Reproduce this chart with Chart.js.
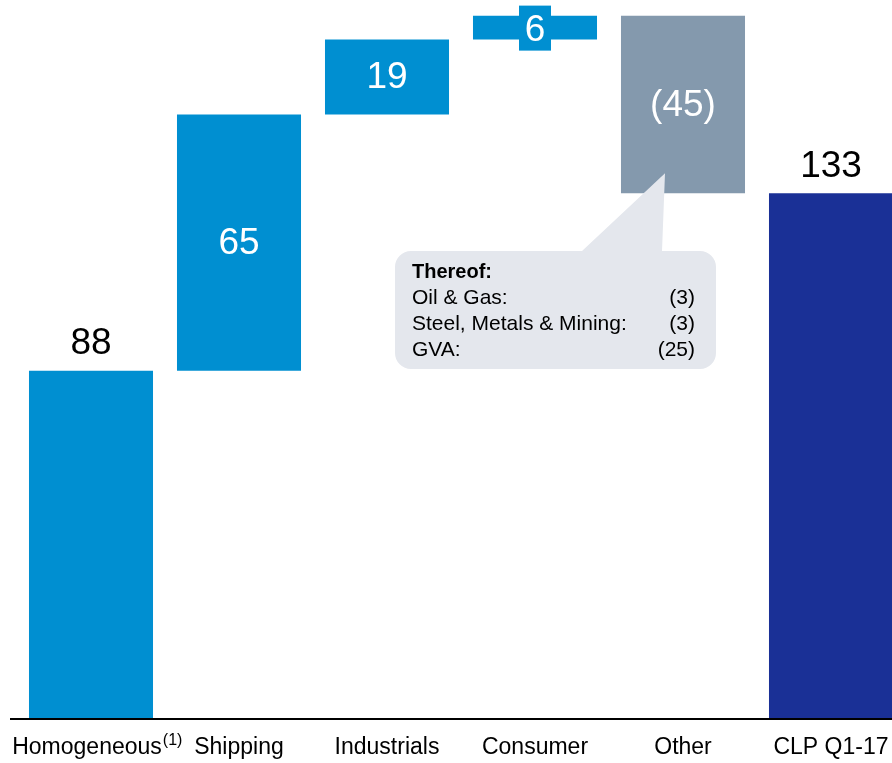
<!DOCTYPE html>
<html>
<head>
<meta charset="utf-8">
<script src="https://cdn.jsdelivr.net/npm/chart.js@4"></script>
<style>
  html, body { margin: 0; padding: 0; background: #fff; overflow: hidden; }
  #wrap { position: relative; width: 905px; height: 763px; }
</style>
</head>
<body>
<div id="wrap"><canvas id="bridge"></canvas></div>
<script>
const categories = ['Homogeneous', 'Shipping', 'Industrials', 'Consumer', 'Other', 'CLP Q1-17'];
const changes = [88, 65, 19, 6, -45, 133];
const valueLabels = ['88', '65', '19', '6', '(45)', '133'];
const isTotal = [false, false, false, false, false, true];
const barColors = ['#008fd1', '#008fd1', '#008fd1', '#008fd1', '#8499ad', '#1a3096'];
const thereofItems = ['Oil & Gas:', 'Steel, Metals & Mining:', 'GVA:'];
const thereofValues = ['(3)', '(3)', '(25)'];

// floating bars for the bridge
let running = 0;
const ranges = changes.map((v, i) => {
    if (isTotal[i]) return [0, v];
    const start = running;
    running += v;
    return [start, running];
});

const FONT = "Arial, 'Liberation Sans', Helvetica, sans-serif";

const bridgeLabels = {
    id: 'bridgeLabels',
    afterDatasetsDraw(chart) {
        const ctx = chart.ctx;
        const meta = chart.getDatasetMeta(0);
        ctx.save();
        ctx.textAlign = 'center';
        ctx.textBaseline = 'middle';
        ctx.font = '37px ' + FONT;
        meta.data.forEach((bar, i) => {
            const top = Math.min(bar.y, bar.base);
            const bottom = Math.max(bar.y, bar.base);
            const outside = (i === 0 || isTotal[i]);
            if (outside) {
                ctx.fillStyle = '#000';
                ctx.fillText(valueLabels[i], bar.x, top - 27);
            } else {
                const cy = (top + bottom) / 2;
                if (bottom - top < 40) {
                    // small bar: label box sticks out of the bar
                    ctx.fillStyle = barColors[i];
                    ctx.fillRect(bar.x - 16, cy - 22, 32, 45);
                    ctx.fillStyle = '#fff';
                    ctx.fillText(valueLabels[i], bar.x, cy + 3);
                } else {
                    ctx.fillStyle = '#fff';
                    ctx.fillText(valueLabels[i], bar.x, cy + 1);
                }
            }
        });

        // baseline
        const yBase = chart.scales.y.getPixelForValue(0);
        ctx.strokeStyle = '#000';
        ctx.lineWidth = 2;
        ctx.beginPath();
        ctx.moveTo(10, yBase + 1);
        ctx.lineTo(892, yBase + 1);
        ctx.stroke();

        // category labels
        const xs = chart.scales.x;
        ctx.font = '23px ' + FONT;
        ctx.fillStyle = '#000';
        categories.forEach((c, i) => {
            const x = xs.getPixelForValue(i) - (i === 0 ? 4 : 0);
            ctx.textAlign = 'center';
            ctx.fillText(c, x, 748);
            if (i === 0) {
                const w = ctx.measureText(c).width;
                ctx.font = '16px ' + FONT;
                ctx.textAlign = 'left';
                ctx.fillText('(1)', x + w / 2 + 1, 741);
                ctx.font = '23px ' + FONT;
            }
        });

        // callout for Other
        const ob = meta.data[4];
        const bx = 395, by = 251, bw = 321, bh = 118, r = 16;
        ctx.fillStyle = '#e4e7ed';
        ctx.beginPath();
        ctx.moveTo(bx + r, by);
        ctx.lineTo(582, by);
        ctx.lineTo(ob.x - 18, Math.max(ob.y, ob.base) - 20);
        ctx.lineTo(662, by);
        ctx.lineTo(bx + bw - r, by);
        ctx.arcTo(bx + bw, by, bx + bw, by + r, r);
        ctx.lineTo(bx + bw, by + bh - r);
        ctx.arcTo(bx + bw, by + bh, bx + bw - r, by + bh, r);
        ctx.lineTo(bx + r, by + bh);
        ctx.arcTo(bx, by + bh, bx, by + bh - r, r);
        ctx.lineTo(bx, by + r);
        ctx.arcTo(bx, by, bx + r, by, r);
        ctx.closePath();
        ctx.fill();

        ctx.fillStyle = '#000';
        ctx.textAlign = 'left';
        ctx.font = 'bold 20px ' + FONT;
        ctx.fillText('Thereof:', 412, 272);
        ctx.font = '21px ' + FONT;
        thereofItems.forEach((t, i) => {
            const y = 298 + i * 26;
            ctx.textAlign = 'left';
            ctx.fillText(t, 412, y);
            ctx.textAlign = 'right';
            ctx.fillText(thereofValues[i], 695, y);
        });
        ctx.restore();
    }
};

new Chart(document.getElementById('bridge'), {
    type: 'bar',
    data: {
        labels: categories,
        datasets: [{
            data: ranges,
            backgroundColor: barColors,
            borderWidth: 0,
            borderSkipped: false,
            categoryPercentage: 1,
            barPercentage: 0.838
        }]
    },
    options: {
        responsive: true,
        maintainAspectRatio: false,
        animation: false,
        layout: { padding: { left: 17, right: 0, top: 0, bottom: 45 } },
        plugins: {
            legend: { display: false },
            tooltip: { enabled: false }
        },
        scales: {
            x: { display: false },
            y: { display: false, min: 0, max: 182 }
        }
    },
    plugins: [bridgeLabels]
});
</script>
</body>
</html>
